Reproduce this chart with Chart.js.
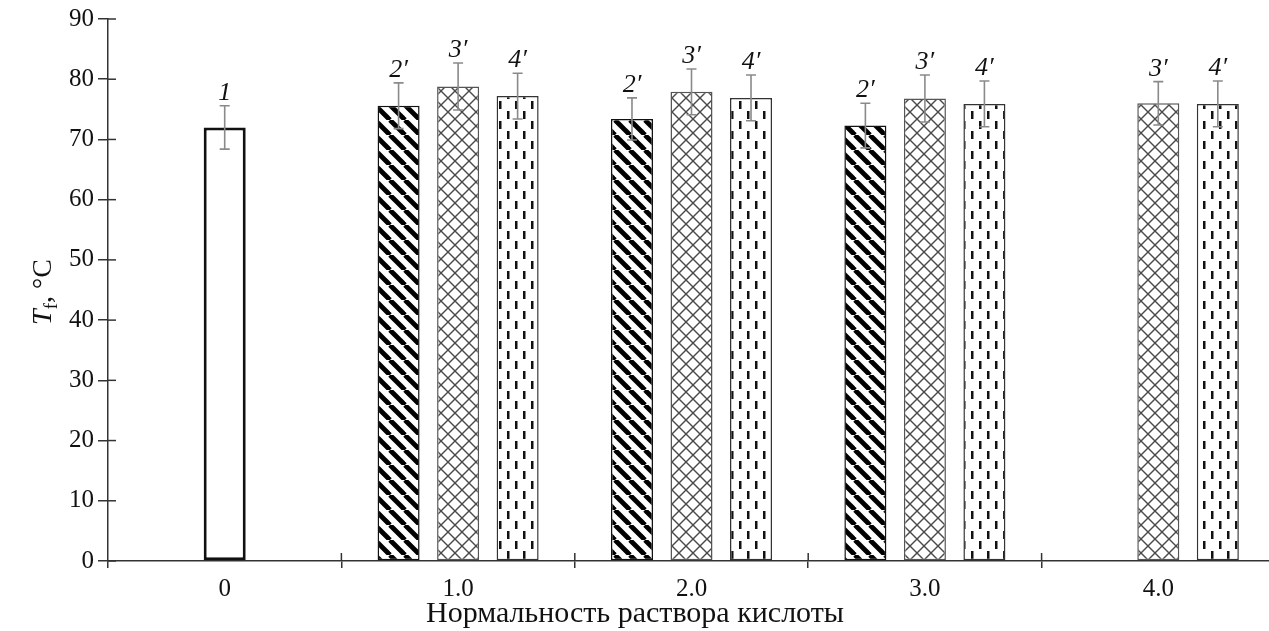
<!DOCTYPE html>
<html><head><meta charset="utf-8">
<script src="https://cdn.jsdelivr.net/npm/chart.js@4/dist/chart.umd.min.js"></script>
<style>
html,body{margin:0;padding:0;background:#fff;overflow:hidden;width:1269px;height:631px}
#wrap{position:relative;width:1290px;height:631px}
</style></head>
<body><div id="wrap"><canvas id="c"></canvas></div>
<script>
// ---- data ----
const categories = ['0', '1.0', '2.0', '3.0', '4.0'];
const seriesLabels = ['1', '2′', '3′', '4′'];
const values1 = [72.0, null, null, null, null];
const values2 = [null, 75.6, 73.4, 72.3, null];
const values3 = [null, 78.8, 77.9, 76.8, 76.0];
const values4 = [null, 77.2, 76.9, 75.9, 75.9];
const errors1 = [3.6, null, null, null, null];
const errors2 = [null, 3.8, 3.5, 3.7, null];
const errors3 = [null, 3.9, 3.8, 3.9, 3.6];
const errors4 = [null, 3.8, 3.8, 3.8, 3.8];
const yTickValues = [0, 10, 20, 30, 40, 50, 60, 70, 80, 90];
const xTitle = 'Нормальность раствора кислоты';

// ---- patterns ----
function makePattern(w, h, draw) {
  const c = document.createElement('canvas');
  c.width = w; c.height = h;
  const g = c.getContext('2d');
  g.fillStyle = '#fff'; g.fillRect(0, 0, w, h);
  draw(g, w, h);
  return g.createPattern(c, 'repeat');
}
const stripePattern = makePattern(15, 15, (g, w, h) => {
  g.strokeStyle = '#000'; g.lineWidth = 4.8;
  for (const o of [-w, 0, w]) {
    g.beginPath(); g.moveTo(o, 0); g.lineTo(o + w, h); g.stroke();
  }
});
const crossPattern = makePattern(14, 14, (g, w, h) => {
  g.strokeStyle = '#4a4a4a'; g.lineWidth = 1.4;
  for (const o of [-w, 0, w]) {
    g.beginPath(); g.moveTo(o, 0); g.lineTo(o + w, h); g.stroke();
    g.beginPath(); g.moveTo(o + w, 0); g.lineTo(o, h); g.stroke();
  }
});
const dashPattern = makePattern(16, 20, (g, w, h) => {
  g.fillStyle = '#111';
  g.fillRect(3, 1, 2.5, 8);
  g.fillRect(11, 11, 2.5, 8);
});

const errorsByDataset = [errors2, errors1, errors3, errors4];

const errorBarsPlugin = {
  id: 'errorBars',
  afterDatasetsDraw(chart) {
    const ctx = chart.ctx, y = chart.scales.y;
    ctx.save();
    chart.data.datasets.forEach((ds, di) => {
      const meta = chart.getDatasetMeta(di);
      const errs = errorsByDataset[di];
      ds.data.forEach((v, i) => {
        if (v == null || errs[i] == null) return;
        const bar = meta.data[i];
        const x = bar.x;
        const yt = y.getPixelForValue(v + errs[i]);
        const yb = y.getPixelForValue(v - errs[i]);
        ctx.strokeStyle = '#8a8a8a'; ctx.lineWidth = 1.6;
        ctx.beginPath();
        ctx.moveTo(x, yt); ctx.lineTo(x, yb);
        ctx.moveTo(x - 5, yt); ctx.lineTo(x + 5, yt);
        ctx.moveTo(x - 5, yb); ctx.lineTo(x + 5, yb);
        ctx.stroke();
        ctx.fillStyle = '#111';
        ctx.font = 'italic 26px "Liberation Serif"';
        ctx.textAlign = 'center'; ctx.textBaseline = 'alphabetic';
        ctx.fillText(ds.label, x, yt - 6);
      });
    });
    ctx.restore();
  }
};

const axisExtrasPlugin = {
  id: 'axisExtras',
  afterDraw(chart) {
    const ctx = chart.ctx, xs = chart.scales.x, ys = chart.scales.y;
    const area = chart.chartArea;
    ctx.save();
    ctx.strokeStyle = '#333'; ctx.lineWidth = 1.5;
    yTickValues.forEach(v => {
      const py = ys.getPixelForValue(v);
      ctx.beginPath(); ctx.moveTo(area.left, py); ctx.lineTo(area.left + 8, py); ctx.stroke();
    });
    for (let i = 1; i < categories.length; i++) {
      const px = (xs.getPixelForValue(i - 1) + xs.getPixelForValue(i)) / 2;
      ctx.beginPath(); ctx.moveTo(px, area.bottom); ctx.lineTo(px, area.bottom - 8); ctx.stroke();
    }
    // x title, centred on the page width
    ctx.fillStyle = '#111';
    ctx.font = '30px "Liberation Serif"';
    ctx.textAlign = 'center'; ctx.textBaseline = 'alphabetic';
    ctx.fillText(xTitle, 635, 622);
    // y title: T_f, °C (rotated)
    ctx.translate(42, (area.top + area.bottom) / 2 + 2);
    ctx.rotate(-Math.PI / 2);
    const parts = [
      {t: 'T', f: 'italic 28px "Liberation Serif"', dy: 0},
      {t: 'f', f: '19px "Liberation Serif"', dy: 6},
      {t: ', °C', f: '28px "Liberation Serif"', dy: 0}
    ];
    let total = 0;
    parts.forEach(p => { ctx.font = p.f; p.w = ctx.measureText(p.t).width; total += p.w; });
    let xx = -total / 2;
    ctx.textAlign = 'left';
    parts.forEach(p => { ctx.font = p.f; ctx.fillText(p.t, xx, 9 + p.dy); xx += p.w; });
    ctx.restore();
  }
};

new Chart(document.getElementById('c'), {
  type: 'bar',
  data: {
    labels: categories,
    datasets: [
      {label: seriesLabels[1], data: values2, stack: 'a', backgroundColor: stripePattern, borderColor: '#111', borderWidth: 1.5},
      {label: seriesLabels[0], data: values1, stack: 'b', backgroundColor: '#fff', borderColor: '#111', borderWidth: 3},
      {label: seriesLabels[2], data: values3, stack: 'b', backgroundColor: crossPattern, borderColor: '#555', borderWidth: 1.5},
      {label: seriesLabels[3], data: values4, stack: 'c', backgroundColor: dashPattern, borderColor: '#333', borderWidth: 1.5}
    ]
  },
  options: {
    responsive: true,
    maintainAspectRatio: false,
    animation: false,
    events: [],
    layout: {padding: {left: 38, right: 15, top: 18, bottom: 0}},
    datasets: {bar: {categoryPercentage: 0.765, barPercentage: 0.706, borderSkipped: false}},
    plugins: {legend: {display: false}, tooltip: {enabled: false}},
    scales: {
      x: {
        afterFit: s => { s.height = 70; },
        grid: {drawOnChartArea: false, offset: true, tickLength: 7, color: '#333', lineWidth: 1.5},
        border: {color: '#333', width: 1.5},
        ticks: {color: '#111', font: {family: '"Liberation Serif"', size: 25}, padding: 6}
      },
      y: {
        stacked: true,
        min: 0, max: 90,
        afterFit: s => { s.width = 70; },
        afterBuildTicks: s => { s.ticks = yTickValues.map(v => ({value: v})); },
        grid: {drawOnChartArea: false, tickLength: 10, color: '#333', lineWidth: 1.5},
        border: {color: '#333', width: 1.5},
        ticks: {color: '#111', font: {family: '"Liberation Serif"', size: 25}, padding: 4}
      }
    }
  },
  plugins: [errorBarsPlugin, axisExtrasPlugin]
});
</script>
</body></html>
